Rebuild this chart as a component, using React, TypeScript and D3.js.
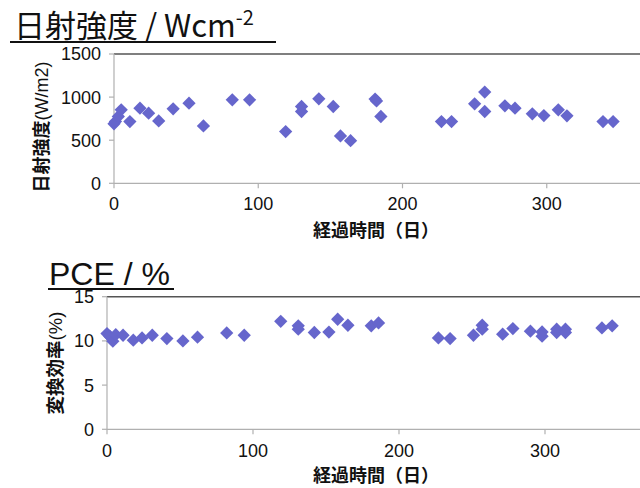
import React from "react";
import * as d3 from "d3";

const irrDays = [0, 1, 3, 5, 11, 18, 24, 31, 41, 52, 62, 82, 94, 119, 130, 130, 142, 152, 157, 164, 181, 182, 185, 227, 234, 250, 257, 257, 271, 278, 290, 298, 308, 314, 339, 346];
const irrValues = [690, 716, 775, 852, 716, 872, 814, 724, 864, 930, 666, 968, 968, 600, 891, 833, 980, 891, 550, 495, 977, 955, 775, 716, 716, 922, 1058, 833, 899, 872, 806, 786, 852, 783, 716, 716];

const pceDays = [0, 2, 4, 6, 11, 18, 24, 31, 41, 52, 62, 82, 94, 119, 131, 131, 142, 152, 158, 165, 181, 186, 227, 235, 251, 257, 257, 271, 278, 290, 298, 298, 308, 308, 314, 314, 339, 346];
const pceValues = [10.83, 10.5, 9.97, 10.7, 10.64, 10.08, 10.34, 10.64, 10.27, 10.0, 10.42, 10.9, 10.64, 12.22, 11.7, 11.32, 10.95, 11.0, 12.45, 11.77, 11.7, 12.03, 10.34, 10.27, 10.64, 11.77, 11.32, 10.76, 11.4, 11.1, 11.02, 10.53, 11.32, 10.95, 11.32, 10.95, 11.47, 11.7];

const xTicks = [0, 100, 200, 300];
const irrTicks = [0, 500, 1000, 1500];
const pceTicks = [0, 5, 10, 15];

const COLOR = "#6666cc";
const SANS = "'Liberation Sans', Arial, sans-serif";
const CJK = "'Noto Sans CJK JP', 'Liberation Sans', sans-serif";

const diamond = d3.symbol().type(d3.symbolSquare).size(88)();

type PanelProps = {
  days: number[];
  values: number[];
  yTicks: number[];
  yMax: number;
  x0: number;
  x1: number;
  yTop: number;
  yBottom: number;
  yLabelCJK: string;
  yLabelRest: string;
  yLabelX: number;
  yLabelCenter: number;
  yLabelSize: number;
  xLabelY: number;
  xTickY: number;
};

function Panel(p: PanelProps) {
  const x = d3.scaleLinear().domain([0, 400]).range([p.x0, p.x1]);
  const y = d3.scaleLinear().domain([0, p.yMax]).range([p.yBottom, p.yTop]);
  return (
    <g>
      <line x1={p.x0} x2={640} y1={p.yTop} y2={p.yTop} stroke="#555" strokeWidth={1.5} />
      <line x1={p.x0} x2={640} y1={p.yBottom} y2={p.yBottom} stroke="#b0b0b0" strokeWidth={1.2} />
      <line x1={p.x0} x2={p.x0} y1={p.yTop} y2={p.yBottom} stroke="#b0b0b0" strokeWidth={1.2} />
      {p.yTicks.map((t) => (
        <g key={"y" + t}>
          <line x1={p.x0 - 5} x2={p.x0} y1={y(t)} y2={y(t)} stroke="#b0b0b0" strokeWidth={1.2} />
          <text x={p.x0 - 13} y={y(t)} dy="0.36em" textAnchor="end" fontFamily={SANS} fontSize={18} fill="#111">
            {t}
          </text>
        </g>
      ))}
      {xTicks.map((t) => (
        <g key={"x" + t}>
          <line x1={x(t)} x2={x(t)} y1={p.yBottom} y2={p.yBottom + 5} stroke="#b0b0b0" strokeWidth={1.2} />
          <text x={x(t)} y={p.xTickY} textAnchor="middle" fontFamily={SANS} fontSize={18} fill="#111">
            {t}
          </text>
        </g>
      ))}
      {p.days.map((d, i) => (
        <path key={i} d={diamond} transform={`translate(${x(d)},${y(p.values[i])}) rotate(45)`} fill={COLOR} />
      ))}
      <text
        transform={`translate(${p.yLabelX},${p.yLabelCenter}) rotate(-90)`}
        textAnchor="middle"
        fontFamily={CJK}
        fontSize={p.yLabelSize}
        fill="#111"
      >
        <tspan fontWeight={700}>{p.yLabelCJK}</tspan>
        <tspan fontFamily={SANS}>{p.yLabelRest}</tspan>
      </text>
      <text x={376} y={p.xLabelY} textAnchor="middle" fontFamily={CJK} fontSize={18} fontWeight={700} fill="#111">
        経過時間（日）
      </text>
    </g>
  );
}

export default function App() {
  return (
    <svg width={640} height={488} style={{ position: "absolute", left: 0, top: 0, background: "#fff" }}>
      <rect width={640} height={488} fill="#fff" />
      <Panel
        days={irrDays}
        values={irrValues}
        yTicks={irrTicks}
        yMax={1500}
        x0={114}
        x1={691}
        yTop={54}
        yBottom={183.3}
        yLabelCJK="日射強度"
        yLabelRest="(W/m2)"
        yLabelX={48}
        yLabelCenter={127}
        yLabelSize={18}
        xLabelY={237}
        xTickY={210}
      />
      <Panel
        days={pceDays}
        values={pceValues}
        yTicks={pceTicks}
        yMax={15}
        x0={107}
        x1={691}
        yTop={296.7}
        yBottom={429.3}
        yLabelCJK="変換効率"
        yLabelRest="(%)"
        yLabelX={62}
        yLabelCenter={363}
        yLabelSize={18.5}
        xLabelY={482}
        xTickY={457}
      />
      <text x={14} y={37} fontFamily={CJK} fontSize={31} fill="#111">
        日射強度 / Wcm
        <tspan fontSize={20} dy={-12}>-2</tspan>
      </text>
      <line x1={10} x2={276} y1={42} y2={42} stroke="#111" strokeWidth={2} />
      <rect x={46} y={255} width={130} height={34} fill="#fff" />
      <text x={49} y={285} fontFamily={SANS} fontSize={32} fill="#111">
        PCE / %
      </text>
      <line x1={48} x2={174} y1={289} y2={289} stroke="#111" strokeWidth={2} />
    </svg>
  );
}
